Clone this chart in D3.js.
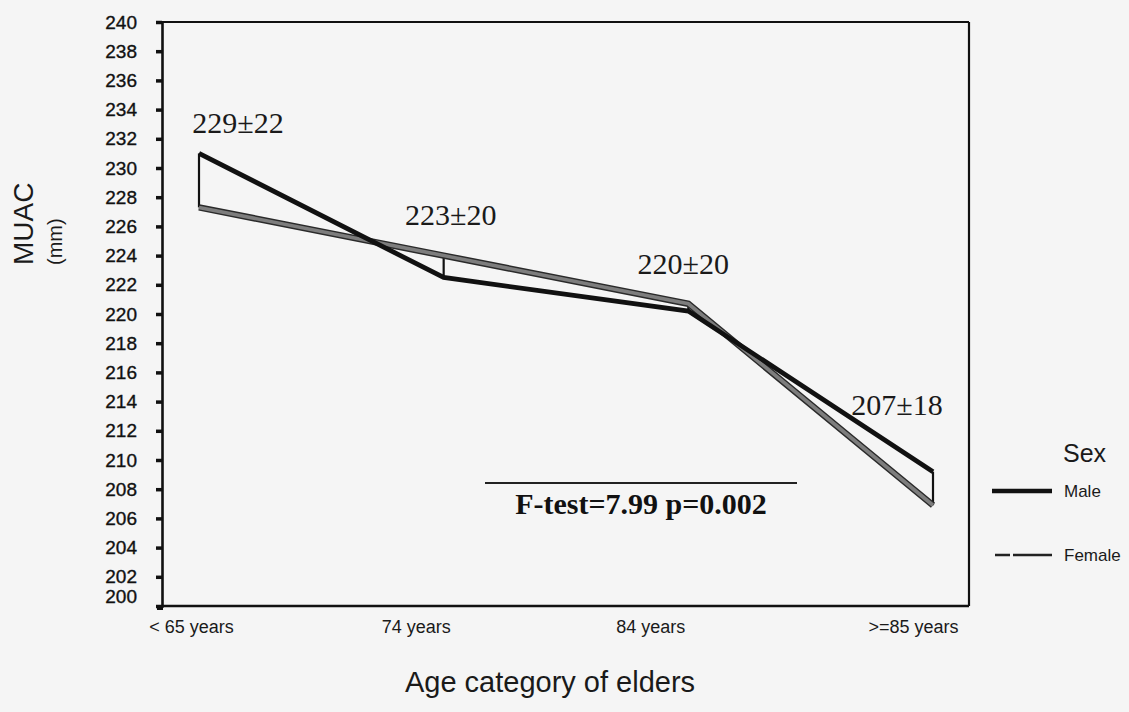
<!DOCTYPE html>
<html>
<head>
<meta charset="utf-8">
<script src="https://cdn.jsdelivr.net/npm/d3@7"></script>
<style>
  html, body { margin: 0; padding: 0; background: #f5f5f5; }
  svg { display: block; }
</style>
</head>
<body>
<svg id="chart" width="1129" height="712"></svg>
<script>
// ---- data ----
const categories = ["< 65 years", "74 years", "84 years", ">=85 years"];
const maleValues = [231.0, 222.5, 220.2, 209.2];
const femaleValues = [227.3, 224.0, 220.7, 206.9];
const meanLabels = ["229±22", "223±20", "220±20", "207±18"];
const yTicks = [200, 202, 204, 206, 208, 210, 212, 214, 216, 218, 220, 222, 224, 226, 228, 230, 232, 234, 236, 238, 240];
const seriesNames = ["Male", "Female"];
const statText = "F-test=7.99 p=0.002";

// ---- layout ----
const svg = d3.select("#chart");
const pLeft = 162, pRight = 969, pTop = 22, pBottom = 606;

const x = d3.scalePoint().domain(categories).range([199, 933]);
const y = d3.scaleLinear().domain([200, 240]).range([pBottom, pTop]);

const sans = "'Liberation Sans', Arial, sans-serif";
const serif = "'Liberation Serif', 'Times New Roman', serif";

// frame top & right
svg.append("line").attr("x1", pLeft).attr("x2", pRight).attr("y1", pTop).attr("y2", pTop)
  .attr("stroke", "#111").attr("stroke-width", 2.2);
svg.append("line").attr("x1", pRight).attr("x2", pRight).attr("y1", pTop).attr("y2", pBottom)
  .attr("stroke", "#111").attr("stroke-width", 2.2);

// y axis
const yAxis = d3.axisLeft(y).tickValues(yTicks).tickSize(6).tickPadding(19).tickFormat(d3.format("d"));
const gy = svg.append("g").attr("transform", `translate(${pLeft},0)`).call(yAxis);
gy.select(".domain").attr("stroke", "#111").attr("stroke-width", 2.6);
gy.selectAll(".tick line").attr("stroke", "#111").attr("stroke-width", 3.5);
gy.selectAll(".tick text").attr("font-family", sans).attr("font-size", 19).attr("fill", "#111")
  .attr("stroke", "#111").attr("stroke-width", 0.35)
  .attr("dy", d => d === 200 ? "-0.2em" : "0.32em");

// x axis
const xAxis = d3.axisBottom(x).tickSize(0).tickPadding(14);
const gx = svg.append("g").attr("transform", `translate(0,${pBottom})`).call(xAxis);
gx.select(".domain").attr("d", `M${pLeft},0H${pRight}`).attr("stroke", "#111").attr("stroke-width", 2.6);
gx.selectAll(".tick text").attr("font-family", sans).attr("font-size", 18).attr("fill", "#1a1a1a")
  .attr("dx", (d, i) => [-8, -28, -38, -20][i]);

// corner square mark
svg.append("rect").attr("x", pLeft - 5).attr("y", pBottom - 1).attr("width", 6).attr("height", 5).attr("fill", "#111");

// axis titles
svg.append("text").attr("transform", "translate(33,265) rotate(-90)")
  .attr("font-family", sans).attr("font-size", 28).attr("fill", "#1a1a1a").text("MUAC");
svg.append("text").attr("transform", "translate(62,265) rotate(-90)")
  .attr("font-family", sans).attr("font-size", 20).attr("fill", "#1a1a1a").text("(mm)");
svg.append("text").attr("x", 550).attr("y", 692).attr("text-anchor", "middle")
  .attr("font-family", sans).attr("font-size", 29).attr("fill", "#1a1a1a").text("Age category of elders");

// drop lines between male and female
svg.append("g").selectAll("line").data(categories).join("line")
  .attr("x1", d => x(d)).attr("x2", d => x(d))
  .attr("y1", (d, i) => y(maleValues[i])).attr("y2", (d, i) => y(femaleValues[i]))
  .attr("stroke", "#111").attr("stroke-width", 2.2);

const line = d3.line().x((d, i) => x(categories[i])).y(d => y(d));

// female: gray band with dark edges
svg.append("path").datum(femaleValues).attr("d", line).attr("fill", "none")
  .attr("stroke", "#2a2a2a").attr("stroke-width", 6.5).attr("stroke-linejoin", "miter");
svg.append("path").datum(femaleValues).attr("d", line).attr("fill", "none")
  .attr("stroke", "#7d7d7d").attr("stroke-width", 3.6).attr("stroke-linejoin", "miter");

// male: thick black
svg.append("path").datum(maleValues).attr("d", line).attr("fill", "none")
  .attr("stroke", "#111").attr("stroke-width", 4.8).attr("stroke-linejoin", "miter");

// mean labels
const ldx = [39, 7, -5, -36], ldy = [-20, -31, -30, -57];
svg.append("g").selectAll("text").data(meanLabels).join("text")
  .attr("x", (d, i) => x(categories[i]) + ldx[i])
  .attr("y", (d, i) => y(Math.max(maleValues[i], femaleValues[i])) + ldy[i])
  .attr("text-anchor", "middle").attr("font-family", serif).attr("font-size", 30)
  .attr("fill", "#1a1a1a").text(d => d);

// F-test annotation
svg.append("line").attr("x1", 485).attr("x2", 797).attr("y1", 483).attr("y2", 483)
  .attr("stroke", "#222").attr("stroke-width", 2.2);
svg.append("text").attr("x", 641).attr("y", 514).attr("text-anchor", "middle")
  .attr("font-family", serif).attr("font-weight", "bold").attr("font-size", 30)
  .attr("fill", "#111").text(statText);

// legend
const lg = svg.append("g");
lg.append("text").attr("x", 1063).attr("y", 462).attr("font-family", sans).attr("font-size", 25)
  .attr("fill", "#1a1a1a").text("Sex");
lg.append("line").attr("x1", 992).attr("x2", 1052).attr("y1", 491).attr("y2", 491)
  .attr("stroke", "#111").attr("stroke-width", 4.5);
lg.append("line").attr("x1", 995).attr("x2", 1052).attr("y1", 555).attr("y2", 555)
  .attr("stroke", "#222").attr("stroke-width", 2.6).attr("stroke-dasharray", "15,3,40");
lg.selectAll("text.item").data(seriesNames).join("text").attr("class", "item")
  .attr("x", 1064).attr("y", (d, i) => i === 0 ? 497 : 561)
  .attr("font-family", sans).attr("font-size", 17).attr("fill", "#1a1a1a").text(d => d);
</script>
</body>
</html>
